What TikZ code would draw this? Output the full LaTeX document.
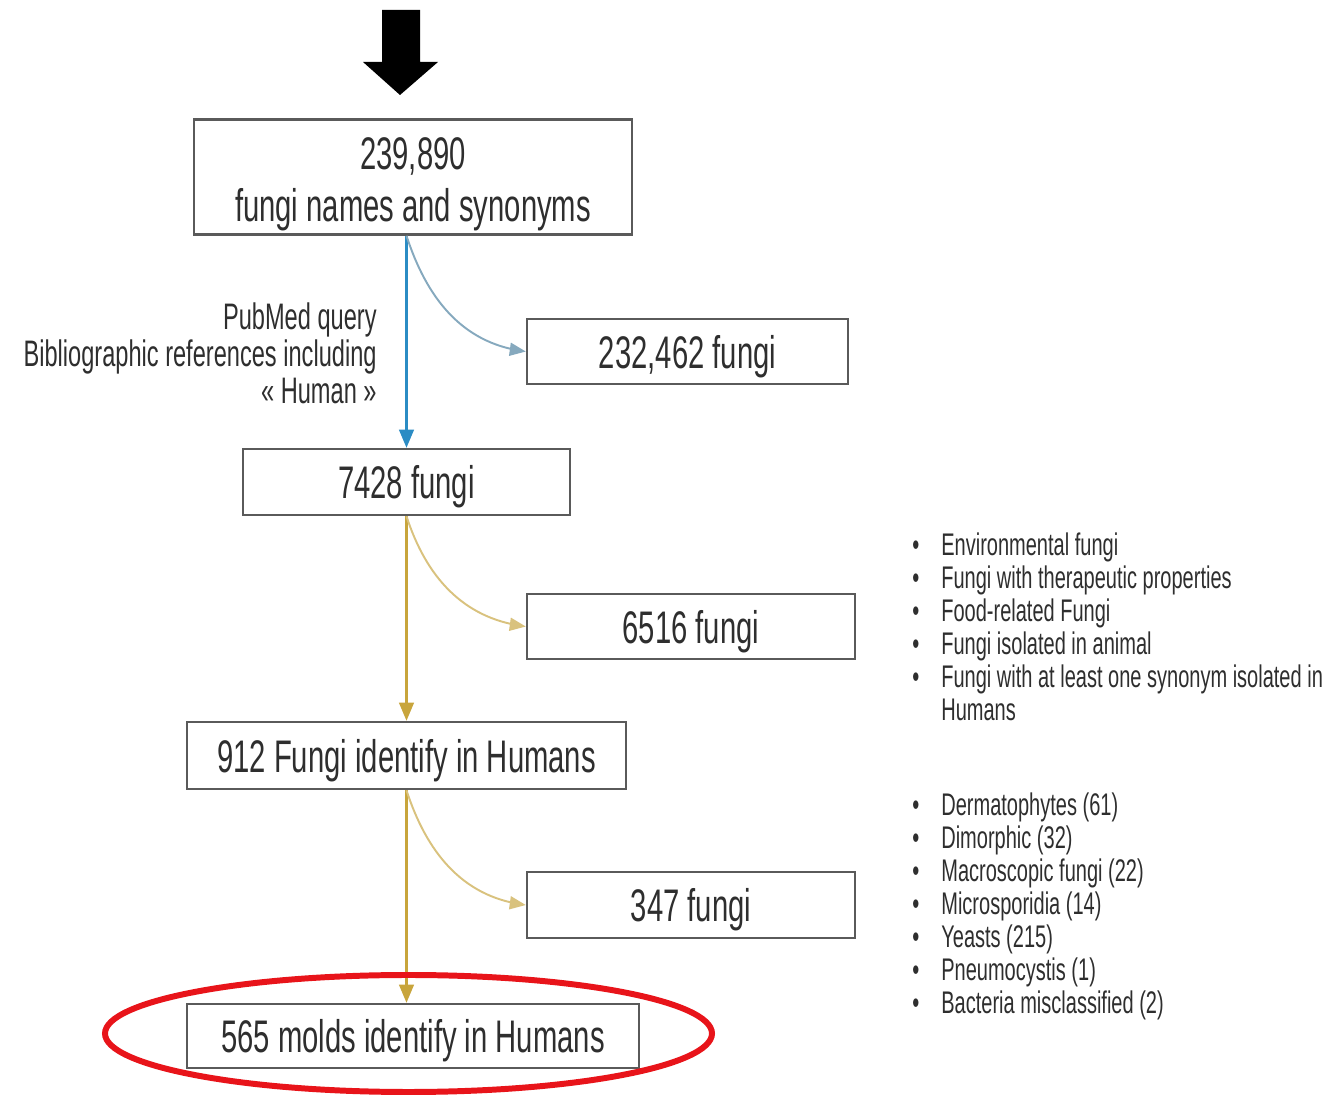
\documentclass[tikz,border=0pt]{standalone}
\usepackage{fontspec}
\setmainfont{Liberation Sans}[FakeStretch=0.64]
\usetikzlibrary{shapes,arrows,positioning}

\definecolor{boxgray}{HTML}{5A5A5A}
\definecolor{textgray}{HTML}{2E2E2E}
\definecolor{flowblue}{HTML}{2B8CC4}
\definecolor{curveblue}{HTML}{86A9BE}
\definecolor{flowgold}{HTML}{C8A53C}
\definecolor{curvegold}{HTML}{D9C27E}
\definecolor{ringred}{HTML}{E8141A}

\newcommand{\bigtxt}{\fontsize{26}{29.5}\selectfont}
\newcommand{\smalltxt}{\fontsize{21}{21}\selectfont}
\newcommand{\listtxt}{\fontsize{17.8}{18.8}\selectfont}

\begin{document}
\begin{tikzpicture}[x=0.02cm, y=-0.02cm]
		\tikzstyle{Box} 	= [rectangle, draw=boxgray, line width=1.5pt, fill=white, inner sep=0pt, text=textgray, font=\bigtxt, align=center, text depth=0pt]
		\tikzstyle{BlueMain}	= [flowblue, line width=1.4pt]
		\tikzstyle{BlueSide}	= [curveblue, line width=1.1pt]
		\tikzstyle{GoldMain}	= [flowgold, line width=1.4pt]
		\tikzstyle{GoldSide}	= [curvegold, line width=1.1pt]
		\tikzstyle{Note}	= [text=textgray, inner sep=0pt]

		\useasboundingbox (0,0) rectangle (1330,1097);

		% input arrow
		\fill[black] (382,10) -- (420,10) -- (420,62) -- (438,62) -- (400,95) -- (363,62) -- (382,62) -- cycle;

		\node (v1) at (413, 177) [Box, minimum width=8.76cm, minimum height=2.3cm] {\strut 239,890\\fungi names and synonyms};
		\node (v2) at (687.5, 351.5) [Box, minimum width=6.42cm, minimum height=1.3cm] {232,462 fungi};
		\node (v3) at (406.5, 482) [Box, minimum width=6.54cm, minimum height=1.32cm] {7428 fungi};
		\node (v4) at (691, 626.5) [Box, minimum width=6.56cm, minimum height=1.3cm] {6516 fungi};
		\node (v5) at (406.5, 755.5) [Box, minimum width=8.78cm, minimum height=1.34cm] {912 Fungi identify in Humans};
		\node (v6) at (691, 905) [Box, minimum width=6.56cm, minimum height=1.32cm] {347 fungi};
		\node (v7) at (413, 1036) [Box, minimum width=9.04cm, minimum height=1.28cm] {565 molds identify in Humans};

		\coordinate (c1) at (v3.north |- v1.south);
		\coordinate (c2) at (v3.south);
		\coordinate (c3) at (v5.south);

		\draw [-triangle 45] (c1) to (v3) [BlueMain];
		\draw [-triangle 45] (c1) to[out=-72, in=172] (v2.west) [BlueSide];
		\draw [-triangle 45] (c2) to (v5) [GoldMain];
		\draw [-triangle 45] (c2) to[out=-72, in=172] (v4.west) [GoldSide];
		\draw [-triangle 45] (c3) to (c3 |- v7.north) [GoldMain];
		\draw [-triangle 45] (c3) to[out=-72, in=172] (v6.west) [GoldSide];

		\node (q) at (377, 353) [Note, anchor=east, align=right, font=\smalltxt] {PubMed query\\Bibliographic references including\\« Human »};

		\node (l1) at (912, 631) [Note, anchor=west, font=\listtxt] {\begin{tabular}{@{}l@{\hspace{0.44cm}}l@{}}
			\textbullet & Environmental fungi\\
			\textbullet & Fungi with therapeutic properties\\
			\textbullet & Food-related Fungi\\
			\textbullet & Fungi isolated in animal\\
			\textbullet & Fungi with at least one synonym isolated in\\
			 & Humans
		\end{tabular}};
		\node (l2) at (912, 908) [Note, anchor=west, font=\listtxt] {\begin{tabular}{@{}l@{\hspace{0.44cm}}l@{}}
			\textbullet & Dermatophytes (61)\\
			\textbullet & Dimorphic (32)\\
			\textbullet & Macroscopic fungi (22)\\
			\textbullet & Microsporidia (14)\\
			\textbullet & Yeasts (215)\\
			\textbullet & Pneumocystis (1)\\
			\textbullet & Bacteria misclassified (2)
		\end{tabular}};

		\draw[ringred, line width=3.4pt] (408.5, 1033.5) ellipse [x radius=303.5, y radius=58.5];
	\end{tikzpicture}
\end{document}
